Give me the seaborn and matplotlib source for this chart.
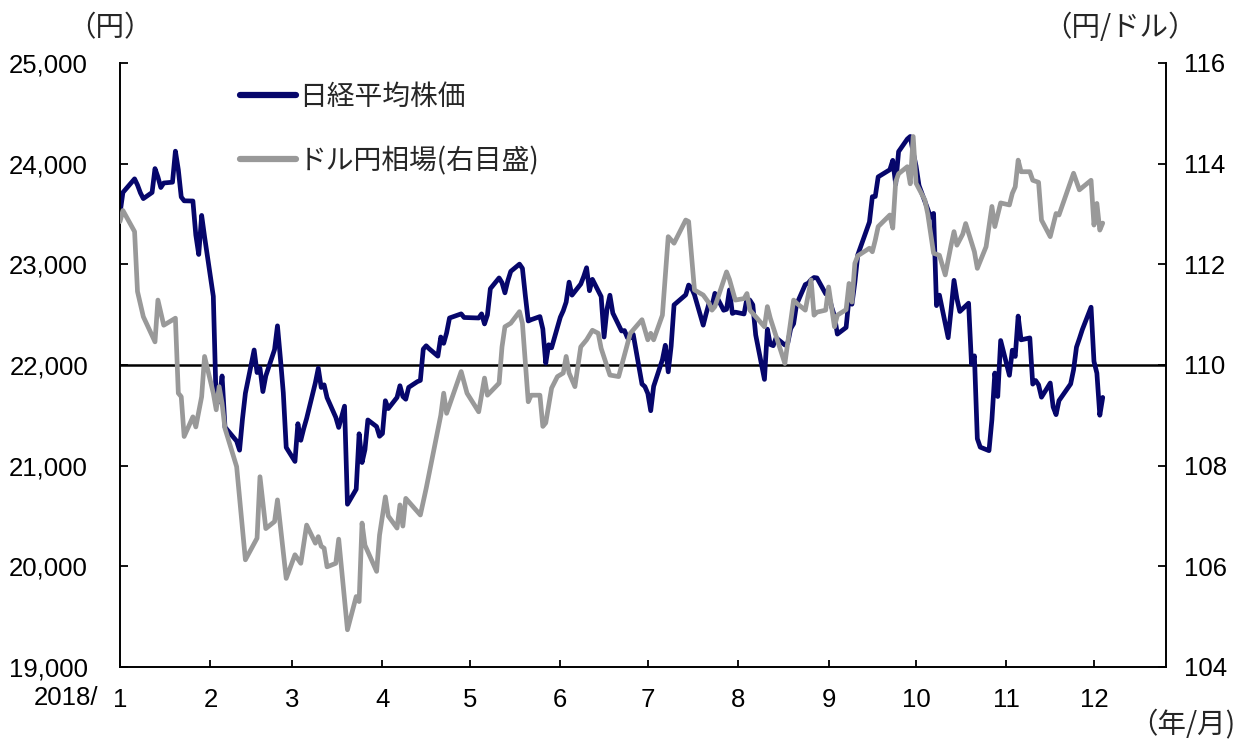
import matplotlib
matplotlib.use("Agg")
import matplotlib.pyplot as plt
import matplotlib.dates as mdates
import matplotlib.ticker as mticker
import seaborn as sns
import pandas as pd

# ---------------- data ----------------
nikkei_dates = [
    "01-04","01-05","01-09","01-10","01-11","01-12","01-15","01-16","01-17","01-18","01-19","01-22","01-23","01-24","01-25","01-26","01-29","01-30","01-31",
    "02-01","02-02","02-05","02-06","02-07","02-08","02-09","02-13","02-14","02-15","02-16","02-19","02-20","02-21","02-22","02-23","02-26","02-27","02-28",
    "03-01","03-02","03-05","03-06","03-07","03-08","03-09","03-12","03-13","03-14","03-15","03-16","03-19","03-20","03-22","03-23","03-26","03-27","03-28","03-29","03-30",
    "04-02","04-03","04-04","04-05","04-06","04-09","04-10","04-11","04-12","04-13","04-16","04-17","04-18","04-19","04-20","04-23","04-24","04-25","04-26","04-27",
    "05-01","05-02","05-07","05-08","05-09","05-10","05-11","05-14","05-15","05-16","05-17","05-18","05-21","05-22","05-23","05-24","05-25","05-28","05-29","05-30","05-31",
    "06-01","06-04","06-05","06-06","06-07","06-08","06-11","06-12","06-13","06-14","06-15","06-18","06-19","06-20","06-21","06-22","06-25","06-26","06-27","06-28","06-29",
    "07-02","07-03","07-04","07-05","07-06","07-09","07-10","07-11","07-12","07-13","07-17","07-18","07-19","07-20","07-23","07-24","07-25","07-26","07-27","07-30","07-31",
    "08-01","08-02","08-03","08-06","08-07","08-08","08-09","08-10","08-13","08-14","08-15","08-16","08-17","08-20","08-21","08-22","08-23","08-24","08-27","08-28","08-29","08-30","08-31",
    "09-03","09-04","09-05","09-06","09-07","09-10","09-11","09-12","09-13","09-14","09-18","09-19","09-20","09-21","09-25","09-26","09-27","09-28",
    "10-01","10-02","10-03","10-04","10-05","10-09","10-10","10-11","10-12","10-15","10-16","10-17","10-18","10-19","10-22","10-23","10-24","10-25","10-26","10-29","10-30","10-31",
    "11-01","11-02","11-05","11-06","11-07","11-08","11-09","11-12","11-13","11-14","11-15","11-16","11-19","11-20","11-21","11-22","11-26","11-27","11-28","11-29","11-30",
    "12-03","12-04","12-05","12-06","12-07",
]
nikkei_values = [
    23506,23714,23849,23788,23710,23653,23714,23951,23868,23763,23808,23816,24124,23940,23669,23631,23629,23291,23098,
    23486,23274,22682,21610,21645,21891,21383,21244,21154,21464,21720,22149,21925,21970,21736,21892,22153,22389,22068,
    21724,21181,21042,21417,21252,21368,21469,21824,21968,21777,21803,21676,21480,21380,21591,20617,20766,21317,21031,21159,21454,
    21388,21292,21319,21645,21567,21678,21794,21687,21660,21778,21835,21847,22158,22191,22162,22088,22278,22215,22319,22467,
    22508,22472,22467,22508,22408,22497,22758,22865,22818,22717,22838,22930,23002,22960,22689,22437,22450,22481,22358,22018,22201,
    22171,22475,22539,22625,22823,22694,22804,22878,22966,22738,22851,22680,22278,22555,22693,22516,22338,22342,22271,22270,22304,
    21811,21785,21717,21546,21788,22052,22196,21932,22187,22597,22697,22794,22764,22697,22396,22510,22614,22586,22712,22544,22553,
    22746,22512,22525,22507,22662,22644,22598,22298,21857,22356,22204,22192,22270,22199,22219,22362,22410,22601,22799,22813,22848,22869,22865,
    22707,22696,22580,22487,22307,22373,22664,22604,22821,23094,23420,23672,23674,23869,23940,24033,23796,24120,
    24245,24270,24110,23975,23783,23469,23506,22590,22694,22271,22549,22841,22658,22532,22614,22010,22091,21268,21184,21149,21457,21920,
    21687,22243,21898,22147,22085,22486,22250,22269,21810,21846,21803,21680,21821,21583,21507,21646,21812,21952,22177,22262,22351,
    22574,22036,21919,21501,21678,
]

usdjpy_dates = [
    "01-04","01-05","01-09","01-10","01-12","01-16","01-17","01-19","01-23","01-24","01-25","01-26","01-29","01-30",
    "02-01","02-02","02-05","02-06","02-07","02-08","02-09","02-13","02-16","02-20","02-21","02-23","02-26","02-27",
    "03-02","03-05","03-07","03-09","03-12","03-13","03-14","03-15","03-16","03-19","03-20","03-23","03-26","03-27","03-28","03-29",
    "04-02","04-03","04-05","04-06","04-09","04-10","04-11","04-12","04-17","04-19","04-23","04-24","04-25","04-26",
    "05-01","05-03","05-07","05-09","05-10","05-14","05-15","05-16","05-18","05-21","05-22","05-24","05-25","05-28","05-29","05-30",
    "06-01","06-03","06-05","06-06","06-07","06-09","06-11","06-13","06-15","06-17","06-18","06-21","06-24","06-28",
    "07-02","07-04","07-05","07-06","07-09","07-11","07-13","07-17","07-18","07-20","07-23","07-25","07-26","07-27","07-31",
    "08-01","08-03","08-06","08-07","08-08","08-10","08-13","08-14","08-15","08-20","08-23","08-24","08-27","08-29","08-30","08-31",
    "09-03","09-04","09-06","09-07","09-10","09-11","09-12","09-13","09-14","09-18","09-19","09-20","09-21","09-25","09-26","09-27","09-28",
    "10-01","10-02","10-03","10-04","10-07","10-08","10-10","10-12","10-14","10-16","10-17","10-18","10-20","10-21","10-24","10-25","10-28","10-30","10-31",
    "11-02","11-05","11-06","11-07","11-08","11-09","11-12","11-13","11-15","11-16","11-19","11-21","11-22","11-27","11-29",
    "12-03","12-04","12-05","12-06","12-07",
]
usdjpy_values = [
    112.85,113.07,112.65,111.46,110.96,110.46,111.29,110.79,110.93,109.44,109.37,108.58,108.97,108.77,
    109.37,110.17,109.44,109.11,109.57,109.24,108.74,107.98,106.13,106.56,107.78,106.75,106.89,107.32,
    105.76,106.23,106.06,106.82,106.46,106.59,106.40,106.36,105.99,106.06,106.54,104.74,105.40,105.30,106.86,106.42,
    105.90,106.62,107.38,107.00,106.76,107.22,106.80,107.35,107.02,107.55,108.71,109.00,109.44,109.04,
    109.87,109.44,109.07,109.74,109.40,109.64,110.36,110.76,110.83,111.06,110.83,109.27,109.40,109.40,108.78,108.85,
    109.54,109.77,109.84,110.17,109.84,109.57,110.36,110.50,110.69,110.63,110.33,109.80,109.77,110.63,
    110.90,110.50,110.63,110.50,110.99,112.55,112.42,112.88,112.85,111.49,111.39,111.23,111.09,111.16,111.85,
    111.70,111.29,111.32,111.42,111.09,110.96,110.76,111.16,110.93,110.03,111.29,111.23,111.09,111.69,110.99,111.05,
    111.09,111.55,110.76,110.99,111.10,111.62,111.25,112.02,112.17,112.32,112.25,112.48,112.75,112.98,112.72,113.64,113.80,
    113.94,113.60,114.54,113.61,113.28,113.00,112.22,112.18,111.79,112.38,112.65,112.38,112.60,112.81,112.25,111.92,112.35,113.15,112.75,
    113.22,113.18,113.41,113.54,114.07,113.84,113.84,113.67,113.63,112.88,112.55,113.01,112.98,113.81,113.48,
    113.67,112.78,113.21,112.68,112.82,
]

x_tick_labels = [str(m) for m in range(1, 13)]
left_ticks = [19000, 20000, 21000, 22000, 23000, 24000, 25000]
right_ticks = [104, 106, 108, 110, 112, 114, 116]

NAVY = "#06066B"
GRAY = "#999999"

# ---------------- figure ----------------
sns.set_theme(style="white")
plt.rcParams["font.family"] = ["Liberation Sans", "Noto Sans CJK JP", "DejaVu Sans"]
JP = ["Noto Sans CJK JP", "DejaVu Sans"]

W, H = 1238, 740
fig = plt.figure(figsize=(W / 100, H / 100), dpi=100)
L, R, T, B = 120, 1166, 63, 667
ax = fig.add_axes([L / W, 1 - B / H, (R - L) / W, (B - T) / H])
ax2 = ax.twinx()

nk = pd.DataFrame({"date": pd.to_datetime(["2018-" + d for d in nikkei_dates]), "value": nikkei_values})
fx = pd.DataFrame({"date": pd.to_datetime(["2018-" + d for d in usdjpy_dates]), "value": usdjpy_values})

ax.axhline(22000, color="black", lw=1.8, zorder=1)
sns.lineplot(data=nk, x="date", y="value", ax=ax, color=NAVY, lw=3.4, legend=False, zorder=2)
sns.lineplot(data=fx, x="date", y="value", ax=ax2, color=GRAY, lw=3.4, legend=False, zorder=2)
for ln in ax.get_lines() + ax2.get_lines():
    ln.set_solid_joinstyle("round")

start = pd.Timestamp("2018-01-04")
ax.set_xlim(mdates.date2num(start), mdates.date2num(start) + 358.7)
ticks = pd.date_range(start, periods=12, freq=pd.DateOffset(months=1))
ax.set_xticks(mdates.date2num(ticks))
ax.set_xticklabels(x_tick_labels)

ax.set_ylim(19000, 25000)
ax.set_yticks(left_ticks)
ax.yaxis.set_major_formatter(mticker.StrMethodFormatter("{x:,.0f}"))
ax2.set_ylim(104, 116)
ax2.set_yticks(right_ticks)
ax2.yaxis.set_major_formatter(mticker.StrMethodFormatter("{x:.0f}"))

ax.set_xlabel("")
ax.set_ylabel("")
ax2.set_ylabel("")
ax.grid(False)
ax2.grid(False)

for a in (ax, ax2):
    for s in a.spines.values():
        s.set_color("black")
        s.set_linewidth(1.4)
    a.spines["top"].set_visible(False)
ax.spines["right"].set_visible(False)
ax2.spines["left"].set_visible(False)
ax2.spines["bottom"].set_visible(False)

ax.tick_params(axis="y", direction="in", length=6, width=1.3, pad=23, labelsize=18.5, colors="black", left=True)
ax.tick_params(axis="x", direction="in", length=5, width=1.3, pad=15, labelsize=18.5, colors="black", bottom=True)
ax2.tick_params(axis="y", direction="in", length=6, width=1.3, pad=13, labelsize=18.5, colors="black", right=True)

ax.text((98 - L) / (R - L), (B - 698) / (B - T), "2018/", transform=ax.transAxes,
        ha="right", va="center", fontsize=18.5, color="black")

fig.text(110 / W, 1 - 28 / H, "（円）", ha="center", va="center", fontsize=20.5, family=JP)
fig.text(1120 / W, 1 - 28 / H, "（円/ドル）", ha="center", va="center", fontsize=20.5, family=JP)
fig.text(1235 / W, 1 - 725 / H, "（年/月)", ha="right", va="center", fontsize=20.5, family=JP)

h1 = ax.get_lines()[-1]
h2 = ax2.get_lines()[-1]
leg = ax2.legend([h1, h2], ["日経平均株価", "ドル円相場(右目盛)"], loc="upper left",
                 bbox_to_anchor=((240 - L) / (R - L), (B - 82) / (B - T)), frameon=False,
                 prop={"family": JP, "size": 20}, handlelength=2.0, handletextpad=0.12,
                 labelspacing=1.22, borderpad=0, borderaxespad=0)
for lh in leg.get_lines():
    lh.set_linewidth(4.5)
    lh.set_solid_capstyle("round")

fig.savefig("out.png", dpi=100)
